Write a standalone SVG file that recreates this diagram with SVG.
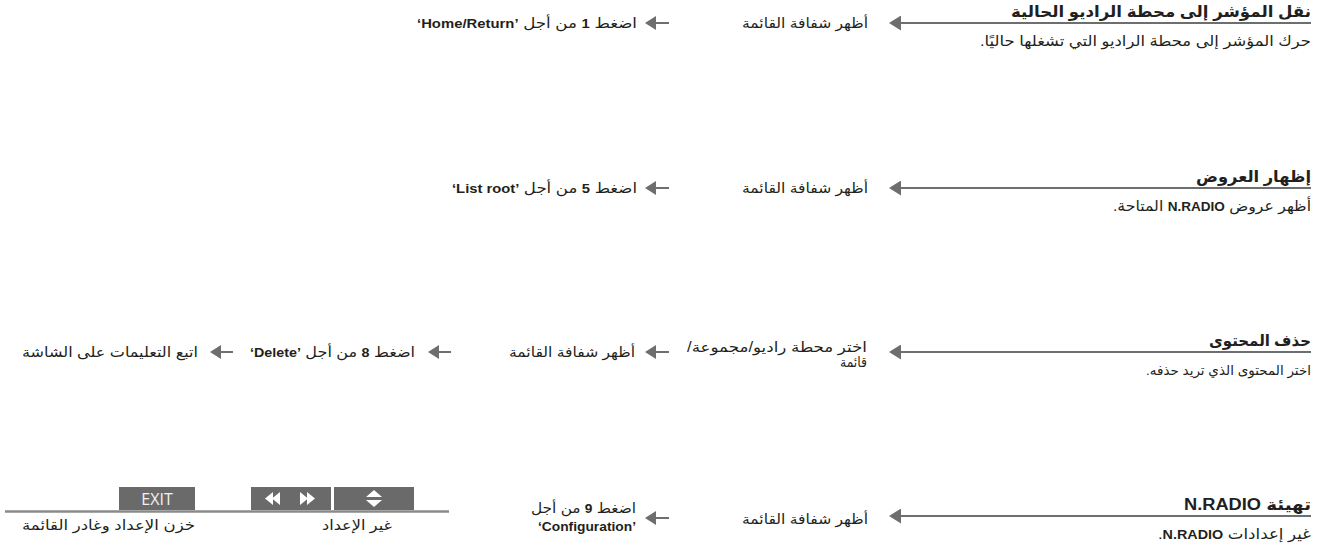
<svg xmlns="http://www.w3.org/2000/svg" width="1331" height="546" viewBox="0 0 1331 546">
<style>
text{font-family:"Liberation Sans","DejaVu Sans",sans-serif;fill:#231f20;direction:rtl;text-anchor:start}
.h{font-size:16px;font-weight:bold}
.d{font-size:14.5px}
.d2{font-size:13.5px}
.m{font-size:14px}
.b{font-weight:bold;font-size:12.5px}
.conn line{stroke:#6d6e70;stroke-width:2}
.main{marker-end:url(#ahL)}
.small{marker-end:url(#ahS)}
.btn{fill:#6a6a6a}
.ic{fill:#ffffff}
.exit{font-family:"Open Sans","Liberation Sans",sans-serif;font-size:16px;fill:#f2f2f2;direction:ltr;text-anchor:middle}
</style>
<defs>
<marker id="ahL" viewBox="0 0 12 15" refX="0" refY="7.5" markerWidth="12" markerHeight="15" markerUnits="userSpaceOnUse" orient="auto"><path d="M0,0 L12,7.5 L0,15 z" fill="#6d6e70"/></marker>
<marker id="ahS" viewBox="0 0 11 14" refX="0" refY="7" markerWidth="11" markerHeight="14" markerUnits="userSpaceOnUse" orient="auto"><path d="M0,0 L11,7 L0,14 z" fill="#6d6e70"/></marker>
</defs>

<g id="connectors" class="conn">
<line class="main" x1="1311" y1="23" x2="901" y2="23"/>
<line class="small" x1="669" y1="23" x2="656" y2="23"/>
<line class="main" x1="1311" y1="188" x2="901" y2="188"/>
<line class="small" x1="669" y1="188" x2="656" y2="188"/>
<line class="main" x1="1311" y1="352" x2="901" y2="352"/>
<line class="small" x1="669" y1="352" x2="656" y2="352"/>
<line class="small" x1="451" y1="352" x2="439" y2="352"/>
<line class="small" x1="233" y1="352" x2="221" y2="352"/>
<line class="main" x1="1311" y1="516" x2="901" y2="516"/>
<line class="small" x1="669" y1="518" x2="656" y2="518"/>
</g>

<g id="row1">
<g id="n1-head"><text class="h" x="1311" y="17" textLength="300" lengthAdjust="spacingAndGlyphs">نقل المؤشر إلى محطة الراديو الحالية</text>
<text class="d" x="1311" y="46" textLength="331" lengthAdjust="spacingAndGlyphs">حرك المؤشر إلى محطة الراديو التي تشغلها حاليًا.</text></g>
<g id="n1-a"><text class="m" x="868" y="28" textLength="126" lengthAdjust="spacingAndGlyphs">أظهر شفافة القائمة</text></g>
<g id="n1-b"><text class="m" x="637" y="28" textLength="220" lengthAdjust="spacingAndGlyphs">اضغط <tspan class="b">1</tspan> من أجل <tspan class="b">’Home/Return‘</tspan></text></g>
</g>

<g id="row2">
<g id="n2-head"><text class="h" x="1311" y="182" textLength="115" lengthAdjust="spacingAndGlyphs">إظهار العروض</text>
<text class="d" x="1311" y="211" textLength="198" lengthAdjust="spacingAndGlyphs">أظهر عروض <tspan class="b">N.RADIO</tspan> المتاحة.</text></g>
<g id="n2-a"><text class="m" x="868" y="193" textLength="126" lengthAdjust="spacingAndGlyphs">أظهر شفافة القائمة</text></g>
<g id="n2-b"><text class="m" x="637" y="193" textLength="185" lengthAdjust="spacingAndGlyphs">اضغط <tspan class="b">5</tspan> من أجل <tspan class="b">’List root‘</tspan></text></g>
</g>

<g id="row3">
<g id="n3-head"><text class="h" x="1311" y="346" textLength="102" lengthAdjust="spacingAndGlyphs">حذف المحتوى</text>
<text class="d2" x="1311" y="375">اختر المحتوى الذي تريد حذفه.</text></g>
<g id="n3-a"><text class="m" x="867" y="352" textLength="180" lengthAdjust="spacingAndGlyphs">اختر محطة راديو/مجموعة/</text>
<text class="m" x="867" y="367" textLength="27" lengthAdjust="spacingAndGlyphs">قائمة</text></g>
<g id="n3-b"><text class="m" x="635" y="357" textLength="126" lengthAdjust="spacingAndGlyphs">أظهر شفافة القائمة</text></g>
<g id="n3-c"><text class="m" x="415" y="357" textLength="165" lengthAdjust="spacingAndGlyphs">اضغط <tspan class="b">8</tspan> من أجل <tspan class="b">’Delete‘</tspan></text></g>
<g id="n3-d"><text class="m" x="198" y="357" textLength="176" lengthAdjust="spacingAndGlyphs">اتبع التعليمات على الشاشة</text></g>
</g>

<g id="row4">
<g id="n4-head"><text class="h" x="1311" y="510" textLength="127" lengthAdjust="spacingAndGlyphs">تهيئة <tspan>N.RADIO</tspan></text>
<text class="d" x="1311" y="539" textLength="153" lengthAdjust="spacingAndGlyphs">غير إعدادات <tspan class="b">N.RADIO</tspan>.</text></g>
<g id="n4-a"><text class="m" x="868" y="524" textLength="126" lengthAdjust="spacingAndGlyphs">أظهر شفافة القائمة</text></g>
<g id="n4-b"><text class="m" x="636" y="513" textLength="105" lengthAdjust="spacingAndGlyphs">اضغط <tspan class="b">9</tspan> من أجل</text>
<text class="m" x="636" y="531" textLength="98" lengthAdjust="spacingAndGlyphs"><tspan class="b">’Configuration‘</tspan></text></g>
<g id="n4-panel">
<rect class="btn" x="119" y="487" width="76" height="23"/>
<text class="exit" x="157" y="505">EXIT</text>
<rect class="btn" x="251" y="487" width="80" height="23"/>
<path class="ic" d="M273,492 L265,498.5 L273,505 z M280,492 L272,498.5 L280,505 z M300,492 L308,498.5 L300,505 z M307,492 L315,498.5 L307,505 z"/>
<rect class="btn" x="334" y="487" width="80" height="23"/>
<path class="ic" d="M374,490 L382,497 L366,497 z M366,500 L382,500 L374,507 z"/>
<line x1="5" y1="511.5" x2="449" y2="511.5" stroke="#8a8a8a" stroke-width="2.5"/>
<text class="m" x="195" y="530" textLength="173" lengthAdjust="spacingAndGlyphs">خزن الإعداد وغادر القائمة</text>
<text class="m" x="392" y="530" textLength="70" lengthAdjust="spacingAndGlyphs">غير الإعداد</text>
</g>
</g>
</svg>
